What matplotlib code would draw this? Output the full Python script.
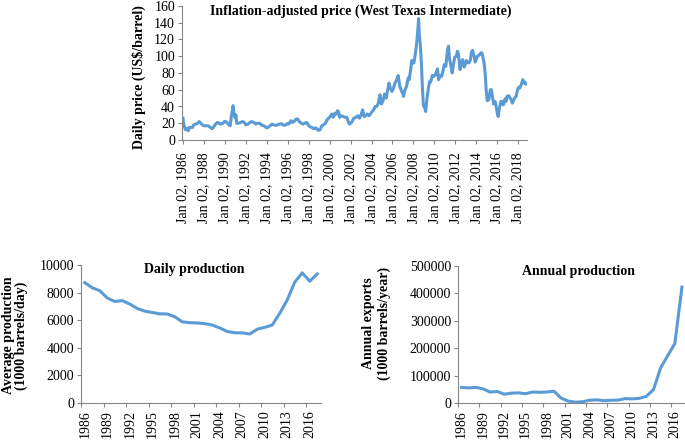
import matplotlib
matplotlib.use('Agg')
import matplotlib.pyplot as plt

plt.rcParams['font.family'] = ['Liberation Serif', 'DejaVu Serif']
plt.rcParams['font.size'] = 10

BLUE = '#5B9BD5'
GRAY = '#868686'

# WTI daily price (irregular sample)
price_t = [1986.00, 1986.05, 1986.15, 1986.25, 1986.35, 1986.50, 1986.60, 1986.75, 1986.90,
           1987.00, 1987.20, 1987.40, 1987.55, 1987.70, 1987.85,
           1988.00, 1988.20, 1988.40, 1988.60, 1988.80, 1988.95,
           1989.10, 1989.30, 1989.45, 1989.60, 1989.80, 1989.95,
           1990.10, 1990.25, 1990.40, 1990.50, 1990.60, 1990.70, 1990.78, 1990.85, 1990.95,
           1991.05, 1991.12, 1991.30, 1991.50, 1991.70, 1991.85,
           1992.00, 1992.20, 1992.40, 1992.55, 1992.75, 1992.95,
           1993.10, 1993.30, 1993.50, 1993.70, 1993.85, 1993.97,
           1994.10, 1994.30, 1994.50, 1994.65, 1994.85,
           1995.00, 1995.20, 1995.40, 1995.60, 1995.80, 1995.95,
           1996.10, 1996.30, 1996.45, 1996.60, 1996.80, 1996.95,
           1997.10, 1997.30, 1997.45, 1997.60, 1997.80, 1997.95,
           1998.10, 1998.30, 1998.50, 1998.70, 1998.85, 1998.95,
           1999.10, 1999.25, 1999.40, 1999.60, 1999.75, 1999.90,
           2000.05, 2000.20, 2000.35, 2000.50, 2000.65, 2000.75, 2000.85, 2000.95,
           2001.10, 2001.30, 2001.50, 2001.65, 2001.80, 2001.90,
           2002.00, 2002.15, 2002.30, 2002.50, 2002.70, 2002.85,
           2003.00, 2003.15, 2003.30, 2003.45, 2003.60, 2003.75, 2003.90,
           2004.00, 2004.20, 2004.35, 2004.50, 2004.65, 2004.80, 2004.95,
           2005.10, 2005.25, 2005.40, 2005.55, 2005.67, 2005.80, 2005.95,
           2006.10, 2006.25, 2006.40, 2006.55, 2006.70, 2006.85,
           2007.00, 2007.05, 2007.20, 2007.35, 2007.50, 2007.60, 2007.75, 2007.85, 2007.95,
           2008.05, 2008.15, 2008.30, 2008.40, 2008.50, 2008.55, 2008.65, 2008.75, 2008.85, 2008.95,
           2009.00, 2009.10, 2009.17, 2009.30, 2009.45, 2009.55, 2009.65, 2009.80, 2009.95,
           2010.10, 2010.30, 2010.40, 2010.55, 2010.70, 2010.85, 2010.95,
           2011.10, 2011.25, 2011.35, 2011.45, 2011.60, 2011.70, 2011.80, 2011.95,
           2012.10, 2012.20, 2012.30, 2012.45, 2012.55, 2012.70, 2012.85, 2012.95,
           2013.05, 2013.15, 2013.30, 2013.45, 2013.55, 2013.65, 2013.80, 2013.90,
           2014.00, 2014.10, 2014.25, 2014.45, 2014.55, 2014.65, 2014.75, 2014.85, 2014.95,
           2015.05, 2015.20, 2015.35, 2015.45, 2015.55, 2015.65, 2015.80, 2015.90,
           2016.00, 2016.10, 2016.20, 2016.35, 2016.50, 2016.60, 2016.75, 2016.85, 2016.95,
           2017.10, 2017.25, 2017.35, 2017.45, 2017.55, 2017.65, 2017.80, 2017.95,
           2018.05, 2018.15, 2018.30, 2018.40, 2018.45, 2018.55, 2018.65, 2018.75]
price_v = [26, 20, 15, 12, 14, 11, 15, 15, 15,
           18, 19, 20, 22, 20, 18,
           17, 17, 17, 15, 13.5, 16,
           19, 21, 20, 19, 20, 22,
           22, 20, 18, 17, 27, 35, 41, 33, 27,
           30, 20, 20, 21, 22, 21,
           18, 19, 21, 22, 21, 19,
           20, 20, 18, 17, 16, 14.5,
           15, 17, 19, 18, 17.5,
           18, 19, 19.5, 17.5, 18, 19.5,
           19, 23, 21, 22, 25, 25,
           22, 20, 19, 20, 21, 18,
           16, 15, 13.5, 14.5, 12, 11.5,
           12.5, 17, 18, 20, 24, 26,
           28, 31, 27, 32, 31, 35, 34, 27,
           29, 28, 27, 27, 21, 19,
           20, 22, 26, 27, 29, 26,
           30, 36, 28, 29, 31, 29, 31,
           33, 36, 40, 40, 44, 54, 43,
           47, 55, 50, 60, 68, 62, 58,
           62, 68, 72, 77, 64, 59,
           55, 52, 60, 64, 74, 72, 85, 95, 92,
           92, 100, 114, 128, 145, 128, 115, 95, 65, 42,
           40, 38, 34, 50, 63, 70, 69, 77, 76,
           78, 85, 72, 77, 76, 84, 90,
           88, 107, 112, 97, 88, 80, 88, 99,
           100, 106, 103, 84, 90, 96, 87, 90,
           95, 93, 92, 96, 105, 107, 100, 93,
           96, 100, 101, 104, 104, 98, 92, 80, 60,
           47, 48, 60, 60, 52, 43, 46, 40,
           33, 28, 37, 46, 46, 42, 49, 46, 52,
           53, 50, 48, 44, 47, 50, 52, 60,
           63, 62, 66, 70, 72, 68, 69, 67]

price_ticks = list(range(1986, 2019, 2))
price_labels = ['Jan 02, %d' % y for y in price_ticks]

years = list(range(1986, 2018))
production = [8720, 8350, 8140, 7610, 7360, 7420, 7170, 6850, 6660, 6560, 6460,
              6450, 6250, 5880, 5820, 5800, 5750, 5650, 5440, 5180, 5090, 5080,
              5000, 5350, 5480, 5650, 6500, 7470, 8760, 9430, 8830, 9350]
exports = [57000, 55000, 57000, 52000, 40000, 42000, 32000, 36000, 37000, 34000,
           40000, 39000, 40000, 43000, 18000, 7000, 3000, 4500, 10000, 11500,
           8500, 10000, 10500, 16000, 15000, 17000, 24500, 49000, 128000, 173000,
           217000, 423000]

W, H = 685, 440
fig = plt.figure(figsize=(W / 100, H / 100), dpi=100)


def box(left, top, right, bottom):
    return [left / W, 1 - bottom / H, (right - left) / W, (bottom - top) / H]


def style(ax):
    for s in ['top', 'right']:
        ax.spines[s].set_visible(False)
    for s in ['left', 'bottom']:
        ax.spines[s].set_color(GRAY)
        ax.spines[s].set_linewidth(0.8)
    ax.tick_params(axis='both', which='major', direction='out', length=3,
                   color=GRAY, width=0.8, labelsize=10, pad=2)
    ax.patch.set_alpha(0)


# top: price
ax1 = fig.add_axes(box(182, 6, 527, 140))
ax1.plot(price_t, price_v, color=BLUE, lw=2.2)
ax1.set_xlim(1985.9, 2018.85)
ax1.set_ylim(0, 160)
ax1.set_yticks(range(0, 161, 20))
ax1.set_xticks(price_ticks)
ax1.set_xticklabels(price_labels, rotation=90)
style(ax1)
ax1.tick_params(axis='x', pad=6)
ax1.set_ylabel('Daily price (US$/barrel)', fontweight='bold', fontsize=10)
ax1.yaxis.set_label_coords(-0.105, 0.47)
fig.text(361 / W, 1 - 11 / H, 'Inflation-adjusted price (West Texas Intermediate)',
         ha='center', va='center', fontweight='bold', fontsize=10)

# bottom left: daily production
xc = [i + 0.5 for i in range(len(years))]
ax2 = fig.add_axes(box(81, 265, 321, 403))
ax2.plot(xc, production, color=BLUE, lw=2.2)
ax2.set_xlim(0, len(years))
ax2.set_ylim(0, 10000)
ax2.set_yticks(range(0, 10001, 2000))
style(ax2)
ax2.set_xticks(range(0, len(years), 3))
ax2.set_xticklabels([])
ax2.set_xticks(xc[::3], minor=True)
ax2.set_xticklabels([str(y) for y in years[::3]], minor=True, rotation=90)
ax2.tick_params(axis='x', which='minor', length=0, pad=5, labelsize=10)
ax2.set_ylabel('Average production\n(1000 barrels/day)', fontweight='bold',
               fontsize=10, linespacing=0.95)
ax2.yaxis.set_label_coords(-0.22, 0.49)
fig.text(194 / W, 1 - 269 / H, 'Daily production', ha='center', va='center',
         fontweight='bold', fontsize=10)

# bottom right: annual exports
ax3 = fig.add_axes(box(458, 266, 685.5, 403))
ax3.plot(xc, exports, color=BLUE, lw=2.2)
ax3.set_xlim(0, len(years))
ax3.set_ylim(0, 500000)
ax3.set_yticks(range(0, 500001, 100000))
ax3.set_yticklabels([str(v) for v in range(0, 500001, 100000)])
style(ax3)
ax3.set_xticks(range(0, len(years), 3))
ax3.set_xticklabels([])
ax3.set_xticks(xc[::3], minor=True)
ax3.set_xticklabels([str(y) for y in years[::3]], minor=True, rotation=90)
ax3.tick_params(axis='x', which='minor', length=0, pad=5, labelsize=10)
ax3.set_ylabel('Annual exports\n(1000 barrels/year)', fontweight='bold',
               fontsize=10, linespacing=1.2)
ax3.yaxis.set_label_coords(-0.295, 0.58)
fig.text(578 / W, 1 - 272 / H, 'Annual production', ha='center', va='center',
         fontweight='bold', fontsize=10)

fig.savefig('out.png', dpi=100)
